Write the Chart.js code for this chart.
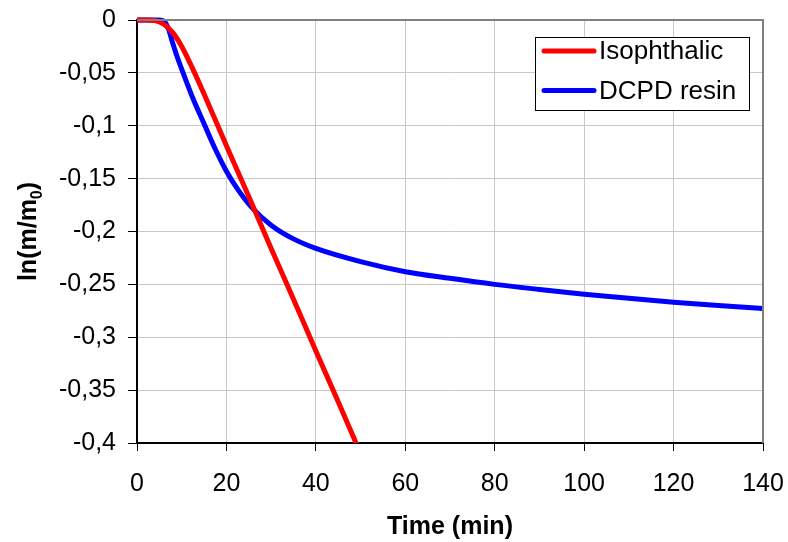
<!DOCTYPE html>
<html>
<head>
<meta charset="utf-8">
<script src="https://cdn.jsdelivr.net/npm/chart.js@4.4.1/dist/chart.umd.min.js"></script>
<style>
  body { margin: 0; background: #fff; }
  #wrap { width: 788px; height: 542px; }
</style>
</head>
<body>
<div id="wrap"><canvas id="myChart" width="788" height="542"></canvas></div>
<script>
// values (time in min, ln(m/m0))
const timeIso = [0, 2, 4, 6, 8, 10, 12, 15, 20, 25, 30, 35, 40, 45, 50];
const lnIso = [0, 0, -0.0005, -0.004, -0.012, -0.025, -0.042, -0.070, -0.119, -0.167, -0.216, -0.264, -0.313, -0.361, -0.41];

const timeDcpd = [0, 2, 5, 6, 7, 8, 9, 10.4, 12.5, 15.2, 17.5, 20, 22.5, 25.6, 30, 35, 40, 50, 60, 70, 80, 90, 100, 110, 120, 130, 140];
const lnDcpd = [0, 0, 0, -0.001, -0.008, -0.022, -0.035, -0.051, -0.074, -0.100, -0.122, -0.143, -0.160, -0.177, -0.194, -0.207, -0.216, -0.2285, -0.238, -0.2443, -0.25, -0.2548, -0.2593, -0.2632, -0.2668, -0.27, -0.2728];

const seriesNames = ['Isophthalic', 'DCPD resin'];
const seriesColors = ['#ff0000', '#0000ff'];

const xTitle = 'Time (min)';
const xMin = 0, xMax = 140, xStep = 20;
const yMin = -0.4, yMax = 0, yStep = 0.05;

const fontFamily = "'Liberation Sans', Arial, sans-serif";

function toPoints(xs, ys) {
    return xs.map((x, i) => ({ x: x, y: ys[i] }));
}

// titles, legend box and the grey frame on top/right
const extras = {
    id: 'extras',
    afterDraw(chart) {
        const ctx = chart.ctx;
        const a = chart.chartArea;
        ctx.save();

        // grey frame
        ctx.strokeStyle = '#808080';
        ctx.lineWidth = 2;
        ctx.beginPath();
        ctx.moveTo(a.left, a.top);
        ctx.lineTo(a.right, a.top);
        ctx.lineTo(a.right, a.bottom);
        ctx.stroke();

        // legend
        const lx = 535, ly = 37, lw = 214, lh = 73;
        ctx.fillStyle = '#fff';
        ctx.fillRect(lx, ly, lw, lh);
        ctx.strokeStyle = '#000';
        ctx.lineWidth = 1;
        ctx.strokeRect(lx + 0.5, ly + 0.5, lw, lh);
        chart.data.datasets.forEach((ds, i) => {
            const y = ly + 14 + i * 39.5;
            ctx.strokeStyle = ds.borderColor;
            ctx.lineWidth = 5;
            ctx.lineCap = 'round';
            ctx.beginPath();
            ctx.moveTo(lx + 9, y);
            ctx.lineTo(lx + 59, y);
            ctx.stroke();
            ctx.fillStyle = '#000';
            ctx.font = '26px ' + fontFamily;
            ctx.textBaseline = 'middle';
            ctx.textAlign = 'left';
            ctx.fillText(ds.label, lx + 64, y + 1);
        });

        // x title
        ctx.fillStyle = '#000';
        ctx.font = 'bold 25px ' + fontFamily;
        ctx.textAlign = 'center';
        ctx.textBaseline = 'middle';
        ctx.fillText(xTitle, (a.left + a.right) / 2, 527);

        // y title with subscript
        ctx.translate(27, (a.top + a.bottom) / 2);
        ctx.rotate(-Math.PI / 2);
        const big = 'bold 25px ' + fontFamily;
        const small = 'bold 16px ' + fontFamily;
        const parts = [['ln(m/m', big, 0], ['0', small, 6], [')', big, 0]];
        let total = 0;
        parts.forEach(p => { ctx.font = p[1]; total += ctx.measureText(p[0]).width; });
        let x = -total / 2;
        ctx.textAlign = 'left';
        ctx.textBaseline = 'alphabetic';
        parts.forEach(p => {
            ctx.font = p[1];
            ctx.fillText(p[0], x, 9 + p[2]);
            x += ctx.measureText(p[0]).width;
        });
        ctx.restore();
    }
};

const lineClip = { left: 5, top: 5, right: 5, bottom: 0 };

new Chart(document.getElementById('myChart'), {
    type: 'line',
    data: {
        datasets: [{
            label: seriesNames[0],
            data: toPoints(timeIso, lnIso),
            borderColor: seriesColors[0],
            borderWidth: 5,
            pointRadius: 0,
            fill: false,
            cubicInterpolationMode: 'monotone',
            clip: lineClip
        },
        {
            label: seriesNames[1],
            data: toPoints(timeDcpd, lnDcpd),
            borderColor: seriesColors[1],
            borderWidth: 5,
            pointRadius: 0,
            fill: false,
            cubicInterpolationMode: 'monotone',
            clip: lineClip
        }]
    },
    options: {
        responsive: false,
        animation: false,
        devicePixelRatio: 1,
        layout: { padding: { top: 20, right: 25, left: 0, bottom: 0 } },
        plugins: {
            legend: { display: false },
            tooltip: { enabled: false }
        },
        scales: {
            x: {
                type: 'linear',
                min: xMin,
                max: xMax,
                afterFit: s => {
                    s.height = 99;
                    s.paddingLeft = 0;
                    s.paddingRight = 0;
                },
                ticks: {
                    stepSize: xStep,
                    color: '#000',
                    font: { size: 25, family: fontFamily },
                    padding: 18,
                    maxRotation: 0
                },
                grid: { color: '#c8c8c8', lineWidth: 1, tickColor: '#000', tickLength: 8 },
                border: { color: '#000', width: 2 }
            },
            y: {
                min: yMin,
                max: yMax,
                afterFit: s => {
                    s.width = 137;
                    s.paddingTop = 0;
                    s.paddingBottom = 0;
                },
                ticks: {
                    stepSize: yStep,
                    color: '#000',
                    font: { size: 25, family: fontFamily },
                    padding: 12,
                    callback: v => Number(v.toFixed(2)).toString().replace('.', ',')
                },
                grid: { color: '#c8c8c8', lineWidth: 1, tickColor: '#000', tickLength: 9 },
                border: { color: '#000', width: 2 }
            }
        }
    },
    plugins: [extras]
});
</script>
</body>
</html>
